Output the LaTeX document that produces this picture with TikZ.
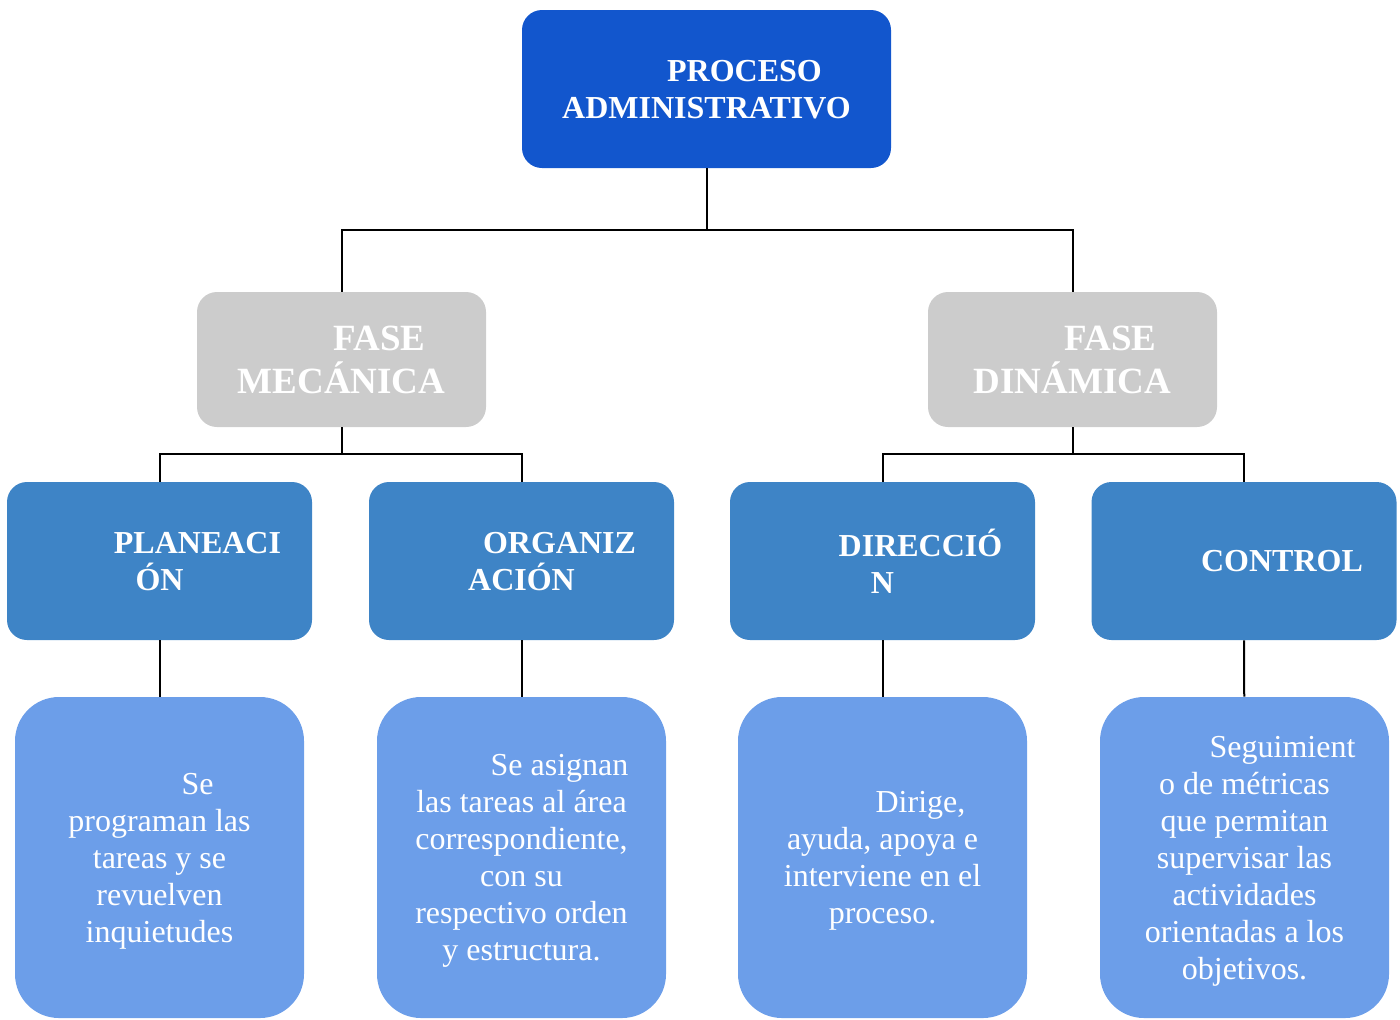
\documentclass[tikz,border=0pt]{standalone}
\usepackage{fontspec}
\setmainfont{Liberation Serif}
\usepackage{xcolor}
\usetikzlibrary{positioning}
\definecolor{procBlue}{RGB}{18,86,205}
\definecolor{faseGray}{RGB}{204,204,204}
\definecolor{etapaBlue}{RGB}{62,132,198}
\definecolor{descBlue}{RGB}{108,158,233}
\newcommand{\sangria}{\hspace*{38pt}}

\begin{document}
\begin{tikzpicture}[
    x=0.5pt, y=-0.5pt,
    proceso/.style={fill=procBlue, rounded corners=10pt, minimum width=184.5pt, minimum height=79pt, inner sep=0pt, align=center, text=white, text depth=-3pt, font=\fontsize{16}{18.5}\selectfont\bfseries},
    fase/.style={fill=faseGray, rounded corners=10pt, minimum width=144.5pt, minimum height=67.5pt, inner sep=0pt, align=center, text=white, text depth=-4pt, font=\fontsize{18.5}{21.5}\selectfont\bfseries},
    etapa/.style={fill=etapaBlue, rounded corners=10pt, minimum width=152.5pt, minimum height=79pt, inner sep=0pt, align=center, text=white, text depth=-5pt, font=\fontsize{16}{18.5}\selectfont\bfseries},
    desc/.style={fill=descBlue, rounded corners=22pt, minimum width=144.5pt, minimum height=160.5pt, inner sep=0pt, align=center, text=white, text depth=-5.5pt, font=\fontsize{16}{18.5}\selectfont},
    link/.style={draw=black, line width=1pt}
]
    \useasboundingbox (0,0) rectangle (1400,1019);

    \node[proceso] (proc) at (706.5,89) {\sangria PROCESO\\ADMINISTRATIVO};

    \node[fase] (fmec) at (341.5,359.5) {\sangria FASE\\MECÁNICA};
    \node[fase] (fdin) at (1072.5,359.5) {\sangria FASE\\DINÁMICA};

    \node[etapa] (plan) at (159.5,561) {\sangria PLANEACI\\ÓN};
    \node[etapa] (orga) at (521.5,561) {\sangria ORGANIZ\\ACIÓN};
    \node[etapa] (dire) at (882.5,561) {\sangria DIRECCIÓ\\N};
    \node[etapa] (cont) at (1244,561) {\sangria CONTROL};

    \node[desc] (dplan) at (159.5,857.5) {\sangria Se\\programan las\\tareas y se\\revuelven\\inquietudes};
    \node[desc] (dorga) at (521.5,857.5) {\sangria Se asignan\\las tareas al área\\correspondiente,\\con su\\respectivo orden\\y estructura.};
    \node[desc] (ddire) at (882.5,857.5) {\sangria Dirige,\\ayuda, apoya e\\interviene en el\\proceso.};
    \node[desc] (dcont) at (1244.5,857.5) {\sangria Seguimient\\o de métricas\\que permitan\\supervisar las\\actividades\\orientadas a los\\objetivos.};

    \draw[link] (proc.south) -- ++(0,62) -| (fmec.north);
    \draw[link] (proc.south) -- ++(0,62) -| (fdin.north);
    \draw[link] (fmec.south) -- ++(0,27) -| (plan.north);
    \draw[link] (fmec.south) -- ++(0,27) -| (orga.north);
    \draw[link] (fdin.south) -- ++(0,27) -| (dire.north);
    \draw[link] (fdin.south) -- ++(0,27) -| (cont.north);
    \draw[link] (plan) -- (dplan);
    \draw[link] (orga) -- (dorga);
    \draw[link] (dire) -- (ddire);
    \draw[link] (cont) -- (dcont);
\end{tikzpicture}
\end{document}
